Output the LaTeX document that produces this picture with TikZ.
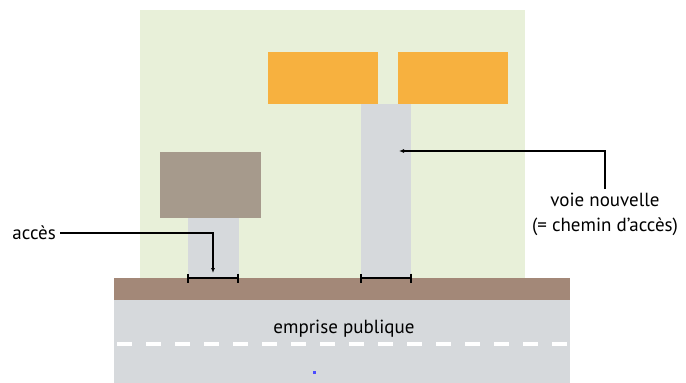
\documentclass[tikz,border=0pt]{standalone}
\usepackage{fontspec}
\setmainfont{PT Sans}
\usetikzlibrary{arrows.meta}

\definecolor{jardin}{HTML}{E8F0D9}
\definecolor{bati}{HTML}{F7B13F}
\definecolor{annexe}{HTML}{A69A8C}
\definecolor{chemin}{HTML}{D6D9DC}
\definecolor{trottoir}{HTML}{A38878}

\tikzset{
  fleche/.style={line width=1.6pt, -{Latex[length=5pt,width=4pt]}},
  largeur/.style={line width=1.6pt, {Bar[width=9pt]}-{Bar[width=9pt]}},
  legende/.style={font=\fontsize{19}{25}\selectfont, inner sep=4pt}
}

\begin{document}
\begin{tikzpicture}[x=1pt,y=-1pt]
    \useasboundingbox (0,0) rectangle (686,383);

    % parcelle
    \fill[jardin] (140,10) rectangle (525,278);
    \fill[bati] (268,52) rectangle (378,104);
    \fill[bati] (398,52) rectangle (508,104);
    \fill[chemin] (361,104) rectangle (411,278);
    \fill[annexe] (160,152) rectangle (261,218);
    \fill[chemin] (188,218) rectangle (239,278);

    % voirie
    \fill[trottoir] (114,278) rectangle (570,300);
    \fill[chemin] (114,300) rectangle (570,383);
    \draw[white, line width=4pt, dash pattern=on 15pt off 14pt] (117,344) -- (570,344);
    \fill[blue!70] (313,371) rectangle (316,374);
    \node[legende] (emprise) at (344,329) {emprise publique};

    % largeurs
    \coordinate (accesg) at (187,278);
    \coordinate (accesd) at (239,278);
    \coordinate (voieg) at (360,278);
    \coordinate (voied) at (412,278);
    \draw[largeur] (accesg) -- (accesd);
    \draw[largeur] (voieg) -- (voied);

    % legendes
    \node[legende, anchor=east] (acces) at (60,233) {accès};
    \coordinate (accesbout) at (213,273);
    \draw[fleche] (acces.east) -| (accesbout);

    \node[legende, anchor=north, align=center] (voie) at (605,189) {voie nouvelle\\(= chemin d’accès)};
    \coordinate (voiebout) at (399,151);
    \draw[fleche] (voie.north) |- (voiebout);
\end{tikzpicture}
\end{document}
